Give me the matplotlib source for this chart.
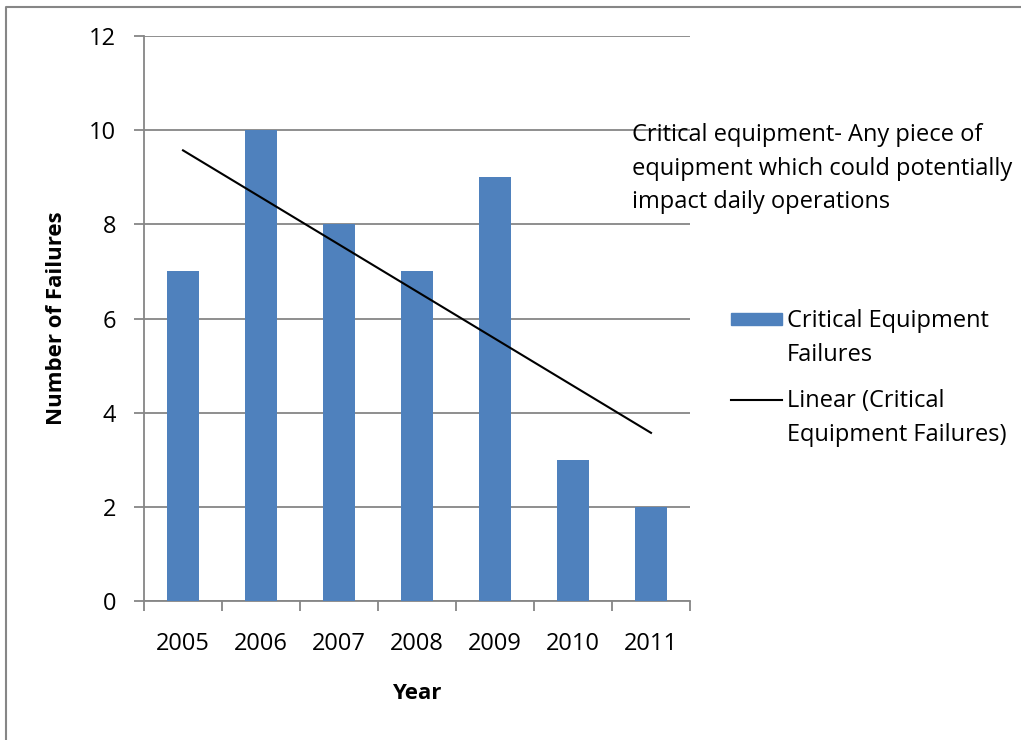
import matplotlib.pyplot as plt
import numpy as np
from matplotlib.lines import Line2D
from matplotlib.patches import Rectangle

# -- Data ----------------------------------------------------------------------
years = ["2005", "2006", "2007", "2008", "2009", "2010", "2011"]
failures = [7, 10, 8, 7, 9, 3, 2]
y_ticks = [0, 2, 4, 6, 8, 10, 12]

BAR_COLOR = "#4F81BD"
AXIS_GRAY = "#868686"
FS = 17

plt.rcParams["font.family"] = ["Open Sans", "DejaVu Sans"]

fig = plt.figure(figsize=(10.21, 7.4), dpi=100)
ax = fig.add_axes([144 / 1021, 1 - 601 / 740, 546 / 1021, 565 / 740])

x = np.arange(len(years))
ax.bar(x, failures, width=0.41, color=BAR_COLOR, zorder=3)

# linear trend fitted to the bars
slope, intercept = np.polyfit(x, failures, 1)
ax.plot(x[[0, -1]], slope * x[[0, -1]] + intercept, color="black", lw=1.5, zorder=4)

ax.set_xlim(-0.5, len(years) - 0.5)
ax.set_ylim(0, 12)
ax.set_yticks(y_ticks)
ax.set_xticks(x)
ax.set_xticklabels(years)
ax.set_xticks(np.arange(len(years) + 1) - 0.5, minor=True)
ax.tick_params(axis="x", which="major", length=0, pad=22, labelsize=FS)
ax.tick_params(axis="x", which="minor", length=7, width=1.3, color=AXIS_GRAY)
ax.tick_params(axis="y", length=7, width=1.3, color=AXIS_GRAY, pad=13, labelsize=FS)

ax.grid(axis="y", color=AXIS_GRAY, lw=1.3, zorder=0)
for side in ("top", "right"):
    ax.spines[side].set_visible(False)
for side in ("left", "bottom"):
    ax.spines[side].set_color(AXIS_GRAY)
    ax.spines[side].set_linewidth(1.3)

ax.set_ylabel("Number of Failures", fontsize=16, fontweight="bold", labelpad=16)
ax.set_xlabel("Year", fontsize=16, fontweight="bold", labelpad=20)

# -- Note and legend -----------------------------------------------------------
LS = 1.53
fig.text(632 / 1021, 1 - 123 / 740,
         "Critical equipment- Any piece of\nequipment which could potentially\nimpact daily operations",
         fontsize=FS, va="top", ha="left", linespacing=LS)

fig.add_artist(Rectangle((731 / 1021, 1 - 325 / 740), 51 / 1021, 12 / 740,
                         color=BAR_COLOR, transform=fig.transFigure))
fig.text(787 / 1021, 1 - 309 / 740, "Critical Equipment\nFailures",
         fontsize=FS, va="top", linespacing=LS)
fig.add_artist(Line2D([731 / 1021, 782 / 1021], [1 - 400 / 740] * 2,
                      color="black", lw=1.5, transform=fig.transFigure))
fig.text(787 / 1021, 1 - 389 / 740, "Linear (Critical\nEquipment Failures)",
         fontsize=FS, va="top", linespacing=LS)

# outer chart frame (left and top edges visible in the crop)
fig.add_artist(Line2D([6 / 1021, 6 / 1021, 1.0], [0.0, 1 - 7 / 740, 1 - 7 / 740],
                      color=AXIS_GRAY, lw=1.5, transform=fig.transFigure))

fig.savefig("out.png", dpi=100)
